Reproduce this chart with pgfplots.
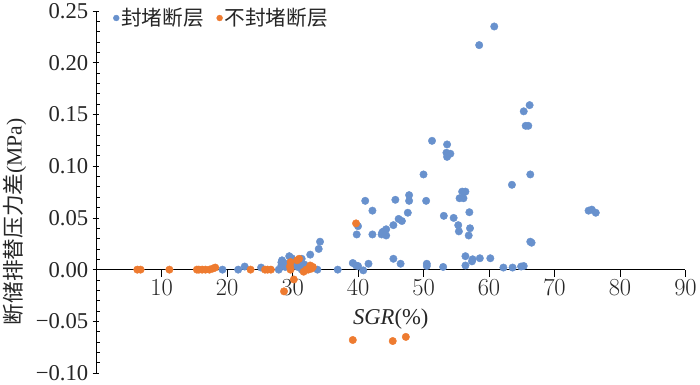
\documentclass[border=0pt]{standalone}
\usepackage{fontspec}
\setmainfont{Liberation Serif}
\newfontfamily\cjk{Noto Sans CJK SC}
\usepackage{pgfplots}
\pgfplotsset{compat=1.18}
\definecolor{sblue}{HTML}{6891CD}
\definecolor{sorange}{HTML}{EE7B30}
\definecolor{txt}{HTML}{262626}

\begin{document}
\begin{tikzpicture}
\begin{axis}[
  width=599pt, height=368pt, scale only axis,
  xmin=0, xmax=90, ymin=-0.1, ymax=0.25,
  axis x line*=middle, axis y line*=left,
  axis line style={black, line width=0.8pt},
  xtick={10,20,...,90},
  ytick={-0.1,-0.05,0,0.05,0.1,0.15,0.2,0.25},
  yticklabels={−0.10,−0.05,0.00,0.05,0.10,0.15,0.20,0.25},
  minor y tick num=4,
  tick align=center,
  major tick length=7pt, minor tick length=4pt,
  x tick style={black, line width=0.8pt, yshift=-3.5pt},
  y tick style={black, line width=0.8pt},
  minor y tick style={xshift=2pt},
  tick label style={font=\fontsize{23}{23}\selectfont, text=txt},
  yticklabel style={xshift=-1pt},
  xticklabel style={yshift=-3pt},
  xlabel={\textit{SGR}(\%)},
  xlabel style={at={(axis description cs:0.5,0.15)}, anchor=center,
    font=\fontsize{23}{23}\selectfont, text=txt},
  ylabel={{\cjk 断储排替压力差}(MPa)},
  ylabel style={at={(axis description cs:-0.138,0.418)}, anchor=center, rotate=0,
    font=\fontsize{22}{22}\selectfont, text=txt},
  legend columns=2,
  legend style={at={(axis description cs:0.024,1.018)}, anchor=north west,
    draw=none, fill=none, font=\fontsize{21}{21}\selectfont\cjk, text=txt,
    /tikz/every even column/.append style={column sep=11pt}},
  legend image code/.code={\draw[#1] plot coordinates {(0.2cm,0cm)};},
  clip=false,
]
\addlegendimage{only marks, mark=*, color=sblue, mark size=3pt}
\addlegendentry{封堵断层}
\addlegendimage{only marks, mark=*, color=sorange, mark size=3pt}
\addlegendentry{不封堵断层}

\addplot[only marks, mark=*, color=sblue, mark size=3.8pt, forget plot] coordinates {
(60.8,0.235) (58.5,0.217) (66.2,0.159) (65.3,0.153) (65.6,0.139) (66.0,0.139)
(66.3,0.092) (63.5,0.082) (75.2,0.057) (75.7,0.058) (76.3,0.055) (66.3,0.027)
(66.5,0.026) (58.6,0.011) (60.2,0.011) (62.2,0.002) (63.6,0.002) (64.9,0.003)
(65.3,0.0035)
(51.3,0.1245) (53.6,0.121) (53.5,0.113) (54.1,0.112) (53.6,0.109) (50.0,0.092)
(41.1,0.0665) (45.7,0.0675) (47.8,0.072) (47.8,0.0665) (50.4,0.0665)
(55.9,0.0754) (56.4,0.0754) (55.5,0.069) (56.1,0.069)
(42.2,0.057) (47.6,0.055) (57.0,0.0555) (53.1,0.052) (54.6,0.050) (46.2,0.049)
(46.7,0.047) (45.4,0.043)
(40.0,0.042) (39.8,0.034) (42.2,0.034) (43.7,0.036) (43.9,0.037) (44.3,0.039)
(43.6,0.034) (44.3,0.033)
(55.3,0.043) (55.4,0.037) (57.1,0.040) (56.9,0.033)
(56.4,0.013) (57.5,0.010) (57.4,0.008) (56.4,0.004)
(50.5,0.0057) (50.5,0.0035) (53.0,0.0026) (45.4,0.0105) (46.5,0.0057)
(39.2,0.0064) (39.7,0.004) (40.0,0.0035) (41.6,0.0057) (40.8,-0.0007) (36.9,0)
(19.3,0) (21.7,0) (22.7,0.003) (25.2,0.002) (27.9,0) (28.3,0.007) (28.9,0.006)
(29.5,0.013) (29.9,0.011) (30.2,0.004) (31.3,0.006) (31.8,0.005) (32.7,0.0145)
(34.0,0.020) (34.2,0.027) (33.8,0) (31.4,0.0105) (28.4,0.009) (28.3,0.004)
(28.9,0.0026) (31.4,0) (30.8,0.0026)
};
\addplot[only marks, mark=*, color=sorange, mark size=3.8pt, forget plot] coordinates {
(6.3,0) (6.8,0) (11.2,0) (15.4,0) (15.7,0) (16.2,0) (16.7,0) (17.3,0)
(17.8,0.001) (18.2,0.002) (23.6,0) (25.8,0) (26.2,0) (26.7,0)
(29.6,0.003) (29.7,0) (30.2,-0.0095) (28.7,-0.021) (30.7,0.009) (31.0,0.0105)
(29.7,0.0073) (31.7,-0.002) (32.1,0) (32.7,0.004) (32.9,0.001) (33.1,0.0026)
(32.4,0) (39.7,0.0447) (39.2,-0.068) (45.3,-0.069) (47.3,-0.065)
};
\end{axis}
\end{tikzpicture}
\end{document}
